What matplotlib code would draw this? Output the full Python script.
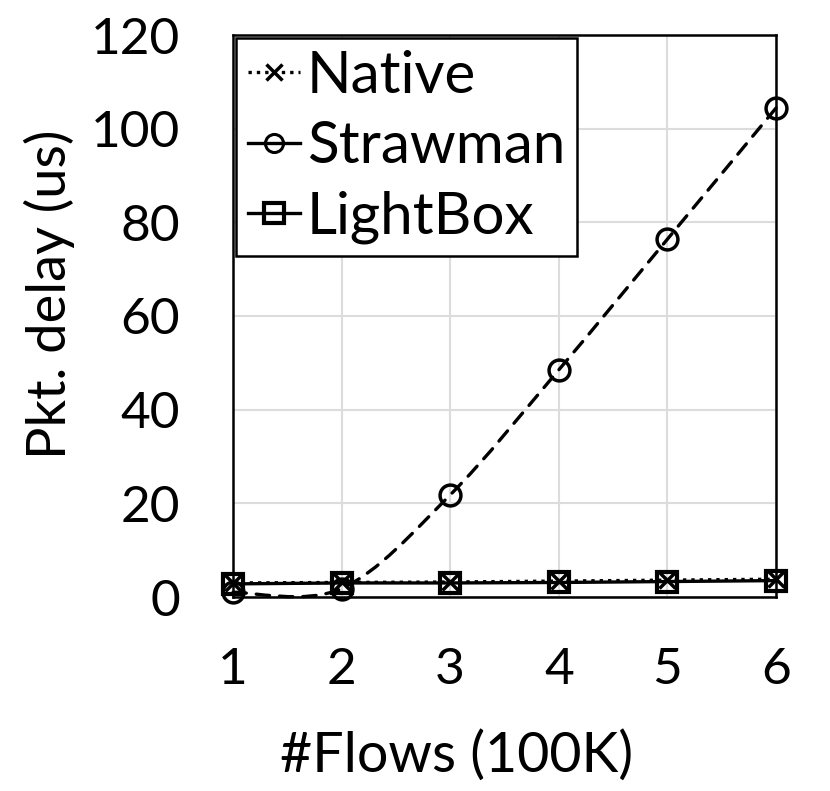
import matplotlib
matplotlib.use('Agg')
import matplotlib.pyplot as plt
from matplotlib.path import Path
from matplotlib.patches import PathPatch

flows = [1, 2, 3, 4, 5, 6]
native = [3.0, 3.1, 3.2, 3.4, 3.6, 3.8]
strawman = [1.0, 1.8, 21.8, 48.5, 76.4, 104.4]
lightbox = [2.8, 3.0, 3.0, 3.1, 3.3, 3.5]

plt.rcParams['font.family'] = ['Lato', 'DejaVu Sans']

fig = plt.figure(figsize=(8.3, 7.91), dpi=100)
ax = fig.add_axes([233 / 830, 1 - 597 / 791, 543 / 830, 562 / 791])


def smooth_path(xs, ys):
    # Excel-like smoothed line: cubic Bezier through the points
    verts = [(xs[0], ys[0])]
    codes = [Path.MOVETO]
    n = len(xs)
    for i in range(n - 1):
        x0, y0 = (xs[i - 1], ys[i - 1]) if i > 0 else (xs[i], ys[i])
        x3, y3 = (xs[i + 2], ys[i + 2]) if i + 2 < n else (xs[i + 1], ys[i + 1])
        c1 = (xs[i] + (xs[i + 1] - x0) / 6, ys[i] + (ys[i + 1] - y0) / 6)
        c2 = (xs[i + 1] - (x3 - xs[i]) / 6, ys[i + 1] - (y3 - ys[i]) / 6)
        verts += [c1, c2, (xs[i + 1], ys[i + 1])]
        codes += [Path.CURVE4] * 3
    return Path(verts, codes)


ax.plot(flows, native, linestyle=(0, (1, 1.5)), color='black', lw=2.4,
        marker='x', ms=11, mew=2.5, label='Native', zorder=4)
ax.add_patch(PathPatch(smooth_path(flows, strawman), fill=False, lw=2.4,
                       linestyle=(0, (4, 3)), edgecolor='black',
                       capstyle='round', zorder=3, clip_on=False))
ax.plot(flows, strawman, linestyle='none', color='black', marker='o', ms=15,
        mew=2.5, mfc='none', zorder=4)
ax.plot([], [], linestyle='-', color='black', lw=2.4, marker='o', ms=13,
        mew=2.2, mfc='none', label='Strawman')
ax.plot(flows, lightbox, linestyle='-', color='black', lw=2.4, marker='s',
        ms=14, mew=3, mfc='none', label='LightBox', zorder=3)

ax.set_xlim(1, 6)
ax.set_ylim(0, 120)
ax.set_xticks(flows)
ax.set_yticks(range(0, 121, 20))
ax.tick_params(length=0, labelsize=37)
ax.tick_params(axis='y', pad=38)
ax.tick_params(axis='x', pad=36)
ax.grid(color='#dcdcdc', lw=1.5)
ax.set_axisbelow(True)
for s in ax.spines.values():
    s.set_color('black')
    s.set_linewidth(1.8)
for ln in ax.lines:
    ln.set_clip_on(False)

fig.text(457 / 830, 1 - 772 / 791, '#Flows (100K)', fontsize=40,
         ha='center', va='baseline')
fig.text(49 / 830, 1 - 294 / 791, 'Pkt. delay (us)', fontsize=39,
         ha='center', va='center', rotation=90)

leg = ax.legend(loc='upper left', fontsize=42, frameon=True, fancybox=False,
                edgecolor='black', framealpha=1, borderaxespad=0.05,
                handlelength=0.9, handletextpad=0.12, borderpad=0.2,
                labelspacing=0.3)
leg.get_frame().set_linewidth(1.8)

fig.savefig('out.png', dpi=100)
